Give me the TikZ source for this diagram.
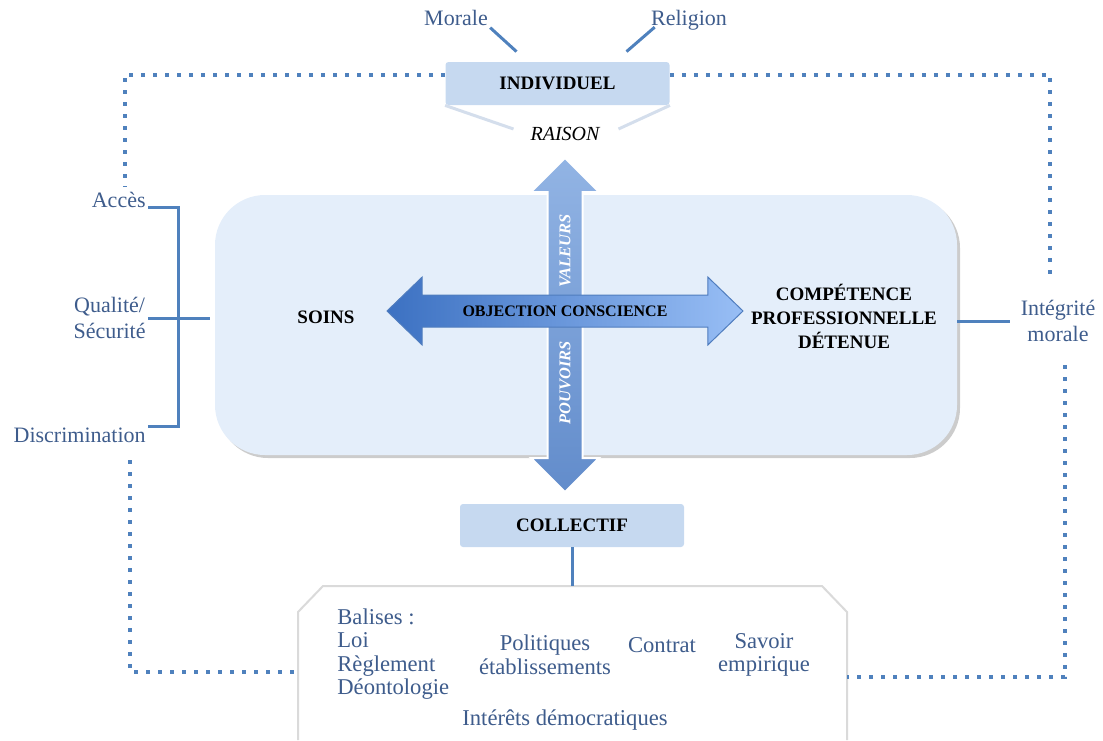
\documentclass[tikz,border=0pt]{standalone}
\usepackage{fontspec}
\setmainfont{Liberation Serif}
\usetikzlibrary{shapes.arrows,shadows}
\definecolor{linkblue}{RGB}{79,129,189}
\definecolor{textblue}{RGB}{62,92,140}
\definecolor{boxfill}{RGB}{228,238,250}
\definecolor{tagfill}{RGB}{198,217,240}
\definecolor{paleline}{RGB}{212,222,236}
\definecolor{framegray}{RGB}{218,218,218}
\definecolor{vtop}{RGB}{146,180,228}
\definecolor{vbottom}{RGB}{98,140,203}
\definecolor{hleft}{RGB}{60,113,194}
\definecolor{hright}{RGB}{152,190,245}
\definecolor{hedge}{RGB}{80,125,190}

\begin{document}
\begin{tikzpicture}[x=0.5pt,y=-0.5pt]
        \tikzstyle{lbl}=[text=textblue,font=\fontsize{11}{13}\selectfont,inner sep=1pt,align=center]
        \tikzstyle{bottomlbl}=[lbl,font=\fontsize{11.3}{11.8}\selectfont]
        \tikzstyle{caps}=[font=\fontsize{9.5}{12}\selectfont\bfseries,inner sep=1pt,align=center]
        \tikzstyle{tag}=[caps,fill=tagfill,rounded corners=1.5pt,minimum width=112pt,minimum height=21.5pt]
        \tikzstyle{link}=[draw=linkblue,line width=1.5pt]
        \tikzstyle{dotline}=[draw=linkblue,line width=2pt,dash pattern=on 2pt off 4pt]
        \tikzstyle{pale}=[draw=paleline,line width=1.5pt]
        \tikzstyle{vlabel}=[rotate=90,text=white,font=\fontsize{8.2}{9}\selectfont\bfseries\itshape]
        \useasboundingbox (0,0) rectangle (1103,740);

        \node[fill=boxfill,rounded corners=25pt,minimum width=371pt,minimum height=130pt,
              drop shadow={shadow xshift=1.5pt,shadow yshift=-1.5pt,opacity=.4}] (centre) at (586,325) {};
        \node[double arrow,shape border rotate=90,minimum height=167pt,inner sep=8.25pt,
              double arrow head extend=8.25pt,double arrow tip angle=90,
              top color=vtop,bottom color=vbottom,draw=white,line width=1pt] (axe) at (565,325) {};
        \node[double arrow,minimum height=178pt,font=\fontsize{8}{9}\selectfont\bfseries,
              text height=5.5pt,text depth=0pt,inner ysep=5pt,double arrow head extend=9pt,
              double arrow tip angle=88,left color=hleft,right color=hright,draw=hedge,line width=.5pt] (objection) at (565,311) {OBJECTION CONSCIENCE};
        \node[vlabel] (valeurs) at (565,251) {VALEURS};
        \node[vlabel] (pouvoirs) at (565,383) {POUVOIRS};

        \node[caps] (soins) at (326,317) {SOINS};
        \node[caps] (comp) at (844,316) {COMPÉTENCE\\PROFESSIONNELLE\\DÉTENUE};
        \node[tag] (indiv) at (557.5,83.5) {INDIVIDUEL};
        \node[tag] (collectif) at (572,525.5) {COLLECTIF};
        \node[font=\fontsize{10}{12}\selectfont\itshape] (raison) at (565,134) {RAISON};

        \node[lbl,anchor=base] (morale) at (456,25) {Morale};
        \node[lbl,anchor=base] (religion) at (689,25) {Religion};
        \node[lbl,anchor=base east] (acces) at (148,207) {Accès};
        \node[lbl,anchor=east] (qualite) at (148,318) {Qualité/\\Sécurité};
        \node[lbl,anchor=north east] (discrim) at (148,426) {Discrimination};
        \node[lbl] (integ) at (1058,321) {Intégrité\\morale};

        \draw[draw=framegray,fill=white,line width=1pt] (298,740) -- (298,612) -- (323,586) -- (822,586) -- (847,612) -- (847,740);
        \coordinate (bx-n) at (572,586);
        \coordinate (bx-w) at (298,672);
        \coordinate (bx-e) at (847,677);
        \node[bottomlbl,anchor=west,align=left] (balises) at (335,654) {Balises :\\Loi\\Règlement\\Déontologie};
        \node[bottomlbl] (politiques) at (545,655) {Politiques\\établissements};
        \node[bottomlbl] (contrat) at (662,645) {Contrat};
        \node[bottomlbl] (savoir) at (764,655) {Savoir\\empirique};
        \node[bottomlbl] (interets) at (565,720) {Intérêts démocratiques};

        \draw[link] (morale.south east) -- ([shift={(-41,-10)}]indiv.north);
        \draw[link] ([shift={(6,-5)}]religion.south west) -- ([shift={(69,-10)}]indiv.north);
        \draw[pale] (indiv.south west) -- ([shift={(-10,-5)}]raison.west);
        \draw[pale] (indiv.south east) -- ([shift={(12,-5)}]raison.east);
        \draw[link] (collectif.south) -- (bx-n);

        \coordinate (brk) at (178,318);
        \coordinate (cw) at ([shift={(-5,0)}]centre.west);
        \draw[link] (acces.base east) -| (brk) |- (discrim.north east);
        \draw[link] (qualite.east) -- (qualite.east -| cw);
        \draw[link] (integ.west -| centre.east) -- ([shift={(-8,0)}]integ.west);

        \coordinate (tl) at (125,187);
        \coordinate (tr) at (1050,275);
        \coordinate (bl) at (130,460);
        \coordinate (br) at (1065,365);
        \draw[dotline] ([shift={(0,-9)}]indiv.west) -| (tl);
        \draw[dotline] ([shift={(0,-9)}]indiv.east) -| (tr);
        \draw[dotline] (bl) |- (bx-w);
        \draw[dotline] (br) |- (bx-e);
\end{tikzpicture}
\end{document}
